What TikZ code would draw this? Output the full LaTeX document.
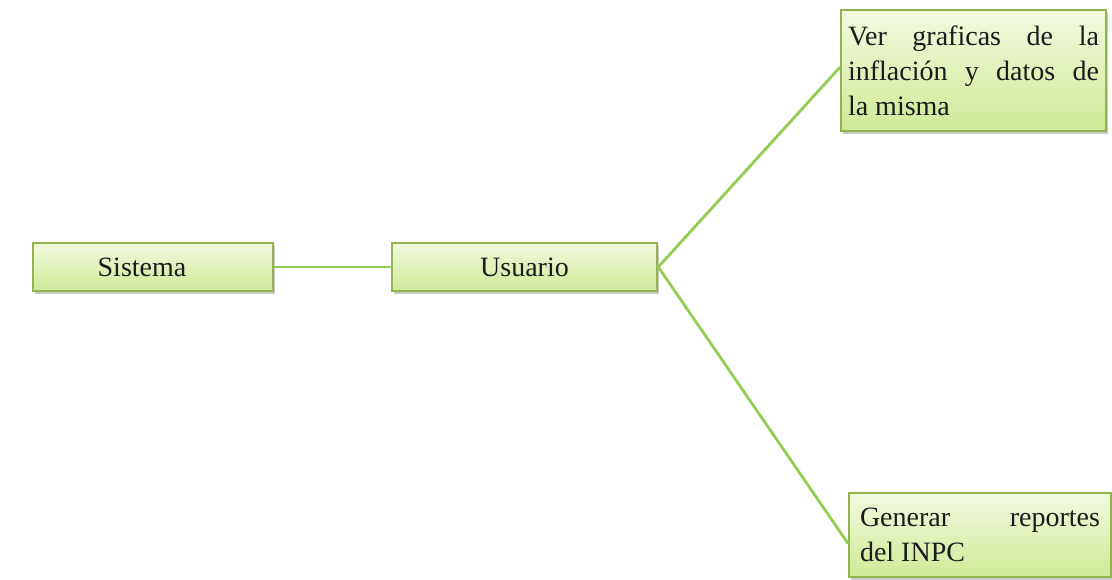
\documentclass[tikz,border=0pt]{standalone}
\usepackage{fontspec}
\setmainfont{Liberation Serif}
\usetikzlibrary{shadows}
\definecolor{boxtop}{HTML}{F2F9DE}
\definecolor{boxbottom}{HTML}{D0EA98}
\definecolor{boxline}{HTML}{93B350}
\definecolor{linkline}{HTML}{93CD52}
\definecolor{ink}{HTML}{1C1C1C}
\begin{document}
\begin{tikzpicture}[x=1pt,y=1pt,
  greenbox/.style={draw=boxline, line width=2.6pt, top color=boxtop, bottom color=boxbottom,
    drop shadow={shadow xshift=2pt, shadow yshift=-3pt, opacity=0.35, fill=black!60},
    text=ink, font=\fontsize{28}{35}\selectfont, inner sep=0pt, anchor=center},
  link/.style={draw=linkline, line width=2.8pt, line cap=round}]
  \useasboundingbox (0,0) rectangle (1112,580);
  \fill[white] (0,0) rectangle (1112,580);

  % left column: system and user
  \node[greenbox, minimum width=240pt, minimum height=48pt] (sistema) at (153,313) {\hspace*{-22pt}Sistema};
  \node[greenbox, minimum width=265pt, minimum height=48pt] (usuario) at (524.5,313) {Usuario};

  % right column: the two actions
  \node[greenbox, minimum width=265pt, minimum height=121pt, text width=251pt, align=justify]
    (graficas) at (973.5,509.5)
    {\hbadness=10000 \hyphenpenalty=10000 \exhyphenpenalty=10000
     Ver graficas de la\linebreak inflación y datos de\linebreak la misma};
  \node[greenbox, minimum width=262pt, minimum height=84pt, text width=240pt, align=justify]
    (reportes) at (980,45)
    {\hbadness=10000 \hyphenpenalty=10000 Generar reportes\linebreak del INPC};

  % connectors
  \draw[link] (sistema.east) -- (usuario.west);
  \draw[link] (usuario.east) -- ([yshift=3pt]graficas.west);
  \draw[link] (usuario.east) -- ([yshift=-8pt]reportes.west);
\end{tikzpicture}
\end{document}
